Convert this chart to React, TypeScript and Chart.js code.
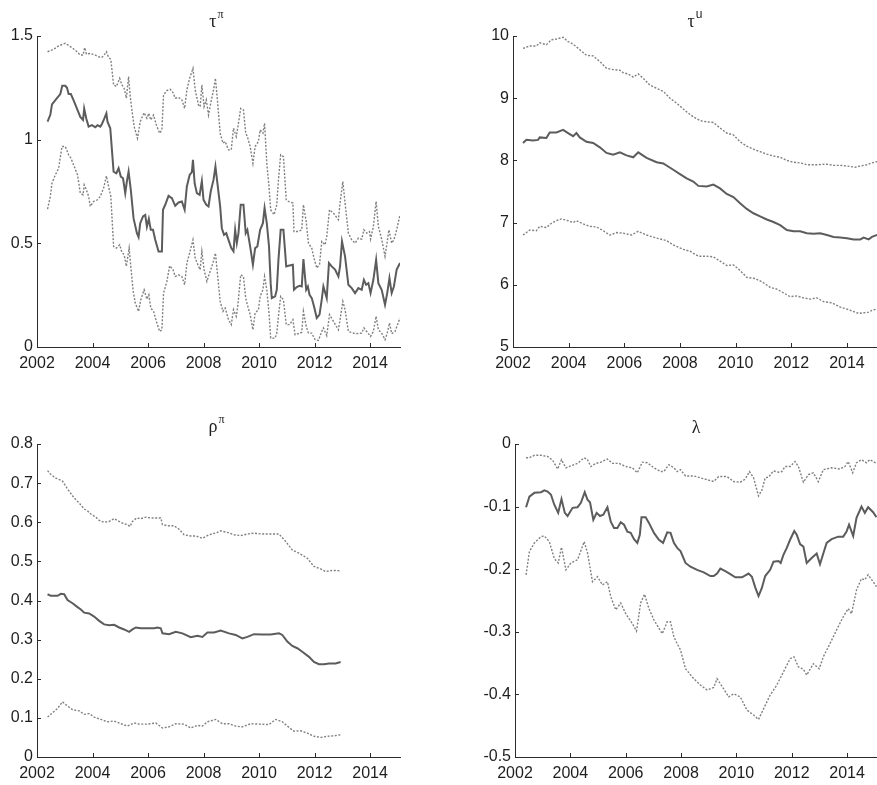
import React, { useEffect, useRef } from "react";
import { Chart, registerables } from "chart.js";

Chart.register(...registerables);

type Pt = [number, number];

// ---------- shared axis data ----------
const xTicks = [2002, 2004, 2006, 2008, 2010, 2012, 2014];
const xMin = 2002;
const xMax = 2015.08;

// ---------- τ^π ----------
const tauPiTicks = [0, 0.5, 1, 1.5];
const tauPiMedian: Pt[] = [[2002.38,1.087],[2002.48,1.12],[2002.54,1.17],[2002.72,1.2],[2002.84,1.22],[2002.91,1.26],[2003.02,1.26],[2003.08,1.25],[2003.14,1.22],[2003.22,1.22],[2003.32,1.19],[2003.44,1.15],[2003.56,1.11],[2003.66,1.095],[2003.7,1.15],[2003.78,1.1],[2003.86,1.063],[2003.98,1.07],[2004.1,1.06],[2004.18,1.07],[2004.28,1.063],[2004.34,1.076],[2004.42,1.1],[2004.5,1.127],[2004.54,1.087],[2004.64,1.055],[2004.76,0.846],[2004.86,0.838],[2004.94,0.862],[2005.02,0.822],[2005.1,0.814],[2005.18,0.742],[2005.24,0.8],[2005.3,0.846],[2005.38,0.758],[2005.48,0.62],[2005.6,0.549],[2005.66,0.53],[2005.72,0.597],[2005.82,0.63],[2005.9,0.637],[2005.96,0.58],[2006.03,0.618],[2006.1,0.565],[2006.18,0.565],[2006.26,0.517],[2006.38,0.461],[2006.5,0.461],[2006.54,0.662],[2006.62,0.686],[2006.74,0.729],[2006.86,0.718],[2006.98,0.681],[2007.1,0.697],[2007.22,0.702],[2007.32,0.662],[2007.4,0.774],[2007.5,0.83],[2007.58,0.843],[2007.62,0.903],[2007.68,0.79],[2007.76,0.742],[2007.86,0.734],[2007.94,0.8],[2008.0,0.71],[2008.1,0.686],[2008.18,0.678],[2008.26,0.75],[2008.36,0.806],[2008.43,0.87],[2008.5,0.79],[2008.6,0.678],[2008.66,0.573],[2008.74,0.541],[2008.82,0.549],[2008.9,0.517],[2009.0,0.477],[2009.08,0.461],[2009.14,0.565],[2009.2,0.501],[2009.26,0.549],[2009.34,0.686],[2009.44,0.686],[2009.52,0.549],[2009.58,0.565],[2009.68,0.485],[2009.78,0.397],[2009.86,0.477],[2009.94,0.485],[2010.04,0.565],[2010.14,0.597],[2010.2,0.67],[2010.28,0.597],[2010.36,0.485],[2010.42,0.308],[2010.46,0.236],[2010.58,0.244],[2010.64,0.276],[2010.7,0.42],[2010.78,0.565],[2010.88,0.565],[2010.98,0.389],[2011.06,0.392],[2011.22,0.397],[2011.26,0.276],[2011.36,0.289],[2011.46,0.295],[2011.54,0.292],[2011.6,0.424],[2011.7,0.276],[2011.76,0.292],[2011.82,0.252],[2011.9,0.236],[2011.98,0.196],[2012.08,0.14],[2012.18,0.156],[2012.26,0.228],[2012.32,0.292],[2012.44,0.236],[2012.52,0.405],[2012.62,0.389],[2012.74,0.373],[2012.86,0.34],[2012.92,0.389],[2012.99,0.509],[2013.1,0.437],[2013.22,0.3],[2013.34,0.284],[2013.46,0.26],[2013.58,0.284],[2013.7,0.276],[2013.78,0.324],[2013.86,0.3],[2013.94,0.308],[2014.02,0.26],[2014.12,0.324],[2014.22,0.42],[2014.3,0.308],[2014.42,0.276],[2014.54,0.204],[2014.62,0.26],[2014.7,0.332],[2014.78,0.26],[2014.86,0.292],[2014.96,0.373],[2015.08,0.405]];
const tauPiUpper: Pt[] = [[2002.38,1.424],[2002.6,1.436],[2002.78,1.452],[2003.02,1.465],[2003.2,1.449],[2003.38,1.432],[2003.56,1.408],[2003.66,1.408],[2003.72,1.444],[2003.78,1.413],[2003.92,1.416],[2004.1,1.408],[2004.22,1.4],[2004.34,1.397],[2004.42,1.408],[2004.5,1.424],[2004.58,1.397],[2004.66,1.387],[2004.76,1.264],[2004.86,1.256],[2004.98,1.296],[2005.06,1.264],[2005.14,1.248],[2005.22,1.2],[2005.3,1.304],[2005.36,1.208],[2005.42,1.143],[2005.5,1.063],[2005.62,1.007],[2005.72,1.087],[2005.86,1.13],[2005.96,1.103],[2006.03,1.127],[2006.1,1.095],[2006.2,1.119],[2006.3,1.071],[2006.42,1.031],[2006.5,1.047],[2006.56,1.216],[2006.68,1.237],[2006.8,1.243],[2006.9,1.227],[2006.98,1.2],[2007.1,1.204],[2007.22,1.192],[2007.32,1.151],[2007.4,1.24],[2007.5,1.296],[2007.62,1.344],[2007.7,1.24],[2007.82,1.167],[2007.88,1.159],[2007.94,1.264],[2008.02,1.159],[2008.1,1.192],[2008.18,1.119],[2008.26,1.176],[2008.36,1.24],[2008.43,1.296],[2008.5,1.192],[2008.6,1.031],[2008.7,0.983],[2008.78,0.991],[2008.9,0.951],[2009.0,0.951],[2009.08,1.055],[2009.18,1.015],[2009.24,1.063],[2009.34,1.151],[2009.44,1.143],[2009.52,1.031],[2009.58,1.015],[2009.68,0.967],[2009.78,0.886],[2009.86,0.967],[2009.98,0.991],[2010.04,1.047],[2010.14,1.031],[2010.2,1.079],[2010.28,0.886],[2010.36,0.774],[2010.42,0.662],[2010.54,0.638],[2010.64,0.686],[2010.7,0.806],[2010.78,0.927],[2010.88,0.918],[2010.98,0.71],[2011.06,0.702],[2011.22,0.694],[2011.26,0.557],[2011.42,0.557],[2011.54,0.565],[2011.6,0.686],[2011.7,0.605],[2011.78,0.501],[2011.9,0.477],[2011.98,0.429],[2012.08,0.381],[2012.18,0.397],[2012.26,0.509],[2012.38,0.493],[2012.44,0.533],[2012.54,0.662],[2012.68,0.646],[2012.86,0.614],[2012.92,0.694],[2013.02,0.798],[2013.1,0.694],[2013.22,0.549],[2013.34,0.517],[2013.46,0.501],[2013.58,0.525],[2013.7,0.52],[2013.78,0.565],[2013.88,0.549],[2013.98,0.557],[2014.02,0.52],[2014.12,0.581],[2014.22,0.702],[2014.3,0.581],[2014.42,0.52],[2014.54,0.437],[2014.62,0.509],[2014.68,0.565],[2014.78,0.501],[2014.86,0.517],[2014.96,0.565],[2015.08,0.638]];
const tauPiLower: Pt[] = [[2002.38,0.665],[2002.48,0.726],[2002.54,0.79],[2002.66,0.83],[2002.78,0.862],[2002.9,0.967],[2003.02,0.967],[2003.14,0.927],[2003.22,0.911],[2003.32,0.878],[2003.46,0.83],[2003.56,0.742],[2003.66,0.734],[2003.7,0.782],[2003.78,0.758],[2003.86,0.726],[2003.92,0.678],[2004.04,0.702],[2004.18,0.71],[2004.28,0.726],[2004.4,0.766],[2004.5,0.825],[2004.58,0.774],[2004.66,0.726],[2004.76,0.485],[2004.86,0.477],[2004.98,0.493],[2005.06,0.456],[2005.14,0.445],[2005.22,0.389],[2005.32,0.477],[2005.38,0.389],[2005.46,0.276],[2005.54,0.212],[2005.66,0.172],[2005.74,0.228],[2005.86,0.276],[2005.96,0.231],[2006.03,0.252],[2006.1,0.188],[2006.2,0.172],[2006.3,0.124],[2006.42,0.075],[2006.5,0.083],[2006.56,0.26],[2006.68,0.316],[2006.78,0.392],[2006.9,0.373],[2006.98,0.34],[2007.1,0.348],[2007.22,0.34],[2007.32,0.3],[2007.4,0.405],[2007.5,0.453],[2007.62,0.517],[2007.7,0.429],[2007.82,0.389],[2007.88,0.373],[2007.94,0.461],[2008.02,0.373],[2008.12,0.316],[2008.24,0.365],[2008.34,0.405],[2008.43,0.453],[2008.5,0.357],[2008.6,0.22],[2008.7,0.172],[2008.78,0.188],[2008.9,0.132],[2009.0,0.108],[2009.08,0.18],[2009.18,0.148],[2009.24,0.204],[2009.34,0.348],[2009.44,0.34],[2009.52,0.236],[2009.58,0.204],[2009.68,0.156],[2009.78,0.083],[2009.86,0.164],[2009.98,0.18],[2010.04,0.244],[2010.14,0.276],[2010.2,0.34],[2010.28,0.276],[2010.36,0.164],[2010.42,0.043],[2010.58,0.043],[2010.64,0.067],[2010.7,0.148],[2010.78,0.244],[2010.88,0.228],[2010.98,0.108],[2011.1,0.108],[2011.22,0.132],[2011.3,0.059],[2011.48,0.067],[2011.54,0.071],[2011.6,0.172],[2011.7,0.1],[2011.78,0.067],[2011.9,0.067],[2012.02,0.035],[2012.14,0.032],[2012.26,0.075],[2012.32,0.092],[2012.44,0.055],[2012.54,0.156],[2012.68,0.124],[2012.86,0.083],[2012.92,0.132],[2013.02,0.22],[2013.1,0.18],[2013.22,0.075],[2013.46,0.064],[2013.7,0.067],[2013.78,0.092],[2013.88,0.075],[2014.02,0.051],[2014.12,0.075],[2014.22,0.148],[2014.3,0.083],[2014.42,0.067],[2014.54,0.035],[2014.62,0.067],[2014.7,0.116],[2014.78,0.064],[2014.9,0.075],[2015.08,0.14]];

// ---------- τ^u ----------
const tauUTicks = [5, 6, 7, 8, 9, 10];
const tauUMedian: Pt[] = [[2002.36,8.28],[2002.48,8.33],[2002.72,8.32],[2002.9,8.33],[2002.96,8.37],[2003.2,8.36],[2003.32,8.45],[2003.56,8.45],[2003.8,8.49],[2003.98,8.44],[2004.16,8.39],[2004.28,8.44],[2004.4,8.37],[2004.64,8.3],[2004.88,8.28],[2005.12,8.21],[2005.36,8.12],[2005.6,8.09],[2005.84,8.13],[2006.08,8.08],[2006.32,8.05],[2006.5,8.13],[2006.8,8.04],[2007.16,7.97],[2007.4,7.95],[2007.76,7.85],[2008.0,7.78],[2008.24,7.71],[2008.48,7.66],[2008.66,7.59],[2008.96,7.58],[2009.2,7.61],[2009.44,7.55],[2009.68,7.46],[2009.92,7.41],[2010.16,7.31],[2010.4,7.22],[2010.64,7.15],[2010.88,7.1],[2011.12,7.05],[2011.36,7.01],[2011.6,6.96],[2011.84,6.88],[2012.08,6.86],[2012.32,6.86],[2012.56,6.83],[2012.8,6.82],[2013.04,6.83],[2013.28,6.8],[2013.52,6.77],[2013.76,6.76],[2014.0,6.75],[2014.24,6.73],[2014.48,6.73],[2014.6,6.76],[2014.78,6.73],[2014.9,6.77],[2015.08,6.8]];
const tauUUpper: Pt[] = [[2002.36,9.8],[2002.6,9.84],[2002.84,9.84],[2002.96,9.89],[2003.2,9.86],[2003.38,9.94],[2003.56,9.95],[2003.8,9.98],[2003.98,9.91],[2004.16,9.87],[2004.4,9.78],[2004.64,9.69],[2004.88,9.68],[2005.12,9.59],[2005.36,9.48],[2005.6,9.46],[2005.84,9.45],[2005.96,9.41],[2006.14,9.39],[2006.32,9.34],[2006.5,9.39],[2006.68,9.32],[2006.92,9.21],[2007.16,9.16],[2007.4,9.11],[2007.64,9.0],[2007.88,8.92],[2008.24,8.78],[2008.48,8.7],[2008.72,8.64],[2008.96,8.62],[2009.2,8.61],[2009.44,8.52],[2009.68,8.44],[2009.92,8.41],[2010.16,8.3],[2010.4,8.23],[2010.64,8.18],[2010.88,8.14],[2011.12,8.1],[2011.36,8.07],[2011.6,8.05],[2011.84,8.0],[2012.08,7.97],[2012.32,7.96],[2012.56,7.93],[2012.92,7.93],[2013.28,7.94],[2013.52,7.92],[2013.76,7.92],[2014.0,7.91],[2014.3,7.89],[2014.48,7.91],[2014.72,7.93],[2014.9,7.96],[2015.08,7.98]];
const tauULower: Pt[] = [[2002.36,6.8],[2002.6,6.88],[2002.84,6.87],[2002.96,6.94],[2003.2,6.92],[2003.38,6.99],[2003.56,7.03],[2003.74,7.06],[2003.98,7.03],[2004.16,7.0],[2004.28,7.03],[2004.52,6.98],[2004.76,6.94],[2005.0,6.93],[2005.24,6.87],[2005.48,6.8],[2005.72,6.84],[2005.96,6.83],[2006.26,6.8],[2006.5,6.86],[2006.8,6.8],[2007.16,6.75],[2007.52,6.71],[2007.76,6.64],[2008.12,6.57],[2008.36,6.54],[2008.66,6.46],[2008.96,6.46],[2009.2,6.45],[2009.44,6.38],[2009.68,6.31],[2009.92,6.32],[2010.16,6.23],[2010.4,6.12],[2010.7,6.1],[2010.94,6.05],[2011.24,5.96],[2011.48,5.93],[2011.72,5.87],[2011.96,5.81],[2012.2,5.82],[2012.44,5.79],[2012.68,5.77],[2012.92,5.79],[2013.16,5.73],[2013.46,5.71],[2013.76,5.64],[2014.0,5.61],[2014.24,5.57],[2014.42,5.54],[2014.6,5.55],[2014.78,5.56],[2014.9,5.59],[2015.08,5.61]];

// ---------- ρ^π ----------
const rhoPiTicks = [0, 0.1, 0.2, 0.3, 0.4, 0.5, 0.6, 0.7, 0.8];
const rhoPiMedian: Pt[] = [[2002.38,0.416],[2002.5,0.412],[2002.74,0.412],[2002.86,0.417],[2002.98,0.416],[2003.1,0.401],[2003.28,0.393],[2003.46,0.383],[2003.58,0.377],[2003.7,0.369],[2003.88,0.367],[2004.06,0.359],[2004.24,0.348],[2004.42,0.339],[2004.6,0.337],[2004.78,0.338],[2004.96,0.331],[2005.14,0.326],[2005.32,0.32],[2005.44,0.326],[2005.56,0.331],[2005.74,0.329],[2005.98,0.329],[2006.22,0.329],[2006.34,0.331],[2006.46,0.329],[2006.52,0.316],[2006.76,0.314],[2007.0,0.32],[2007.24,0.316],[2007.54,0.306],[2007.78,0.31],[2007.96,0.307],[2008.14,0.318],[2008.38,0.318],[2008.62,0.323],[2008.92,0.316],[2009.16,0.312],[2009.4,0.303],[2009.58,0.307],[2009.82,0.314],[2010.12,0.313],[2010.42,0.313],[2010.72,0.316],[2010.84,0.312],[2011.02,0.295],[2011.2,0.284],[2011.38,0.278],[2011.56,0.269],[2011.8,0.256],[2011.98,0.243],[2012.16,0.237],[2012.34,0.237],[2012.52,0.239],[2012.76,0.239],[2012.94,0.243]];
const rhoPiUpper: Pt[] = [[2002.38,0.732],[2002.5,0.722],[2002.68,0.713],[2002.92,0.705],[2003.1,0.685],[2003.34,0.662],[2003.52,0.649],[2003.7,0.634],[2003.82,0.629],[2003.94,0.621],[2004.12,0.613],[2004.24,0.605],[2004.42,0.6],[2004.6,0.602],[2004.78,0.609],[2004.96,0.602],[2005.14,0.596],[2005.26,0.594],[2005.35,0.589],[2005.44,0.602],[2005.59,0.611],[2005.74,0.609],[2005.92,0.613],[2006.1,0.611],[2006.28,0.611],[2006.46,0.611],[2006.52,0.594],[2006.7,0.591],[2006.94,0.591],[2007.12,0.582],[2007.3,0.568],[2007.54,0.565],[2007.72,0.565],[2007.96,0.559],[2008.2,0.568],[2008.5,0.574],[2008.62,0.578],[2008.86,0.574],[2009.1,0.568],[2009.34,0.566],[2009.58,0.57],[2009.82,0.572],[2010.12,0.57],[2010.36,0.57],[2010.72,0.57],[2010.96,0.551],[2011.2,0.529],[2011.44,0.521],[2011.74,0.508],[2011.98,0.487],[2012.22,0.481],[2012.4,0.474],[2012.64,0.477],[2012.94,0.476]];
const rhoPiLower: Pt[] = [[2002.38,0.102],[2002.56,0.113],[2002.74,0.124],[2002.92,0.141],[2003.1,0.13],[2003.28,0.121],[2003.52,0.118],[2003.7,0.109],[2003.88,0.111],[2004.06,0.102],[2004.3,0.096],[2004.54,0.09],[2004.78,0.092],[2005.02,0.085],[2005.26,0.079],[2005.5,0.087],[2005.68,0.084],[2005.98,0.084],[2006.28,0.087],[2006.52,0.074],[2006.76,0.077],[2007.0,0.085],[2007.3,0.084],[2007.54,0.074],[2007.78,0.081],[2007.96,0.079],[2008.14,0.09],[2008.44,0.096],[2008.68,0.085],[2008.92,0.085],[2009.16,0.079],[2009.4,0.077],[2009.7,0.085],[2010.0,0.084],[2010.36,0.083],[2010.6,0.096],[2010.84,0.09],[2011.02,0.079],[2011.26,0.066],[2011.5,0.067],[2011.74,0.061],[2011.98,0.053],[2012.22,0.05],[2012.46,0.053],[2012.7,0.054],[2012.94,0.057]];

// ---------- λ ----------
const lambdaTicks = [-0.5, -0.4, -0.3, -0.2, -0.1, 0];
const lambdaMedian: Pt[] = [[2002.4,-0.101],[2002.52,-0.084],[2002.7,-0.078],[2002.94,-0.077],[2003.06,-0.074],[2003.18,-0.076],[2003.3,-0.081],[2003.42,-0.097],[2003.56,-0.11],[2003.68,-0.088],[2003.8,-0.11],[2003.9,-0.115],[2004.08,-0.102],[2004.26,-0.101],[2004.38,-0.094],[2004.52,-0.077],[2004.62,-0.089],[2004.71,-0.093],[2004.83,-0.121],[2004.95,-0.11],[2005.07,-0.115],[2005.19,-0.113],[2005.34,-0.101],[2005.46,-0.124],[2005.58,-0.134],[2005.7,-0.134],[2005.82,-0.125],[2005.94,-0.129],[2006.06,-0.14],[2006.18,-0.142],[2006.3,-0.152],[2006.42,-0.158],[2006.51,-0.145],[2006.57,-0.117],[2006.72,-0.117],[2006.84,-0.126],[2007.02,-0.142],[2007.2,-0.153],[2007.35,-0.158],[2007.5,-0.141],[2007.62,-0.142],[2007.74,-0.158],[2007.86,-0.166],[2007.98,-0.171],[2008.16,-0.19],[2008.34,-0.196],[2008.58,-0.201],[2008.82,-0.205],[2009.06,-0.211],[2009.18,-0.211],[2009.3,-0.207],[2009.42,-0.199],[2009.6,-0.203],[2009.78,-0.208],[2009.96,-0.213],[2010.2,-0.213],[2010.44,-0.207],[2010.56,-0.212],[2010.68,-0.229],[2010.8,-0.243],[2010.92,-0.23],[2011.04,-0.211],[2011.22,-0.201],[2011.34,-0.188],[2011.52,-0.187],[2011.6,-0.19],[2011.7,-0.177],[2011.82,-0.166],[2011.94,-0.153],[2012.09,-0.139],[2012.18,-0.145],[2012.3,-0.16],[2012.42,-0.164],[2012.54,-0.19],[2012.72,-0.182],[2012.9,-0.175],[2013.02,-0.192],[2013.14,-0.175],[2013.26,-0.158],[2013.44,-0.152],[2013.68,-0.148],[2013.86,-0.148],[2013.98,-0.14],[2014.07,-0.129],[2014.22,-0.147],[2014.34,-0.118],[2014.52,-0.1],[2014.64,-0.11],[2014.76,-0.101],[2014.94,-0.109],[2015.06,-0.117]];
const lambdaUpper: Pt[] = [[2002.4,-0.022],[2002.52,-0.022],[2002.7,-0.018],[2002.94,-0.018],[2003.18,-0.02],[2003.36,-0.026],[2003.54,-0.04],[2003.68,-0.025],[2003.84,-0.038],[2004.02,-0.035],[2004.26,-0.031],[2004.5,-0.022],[2004.62,-0.025],[2004.74,-0.036],[2004.92,-0.031],[2005.1,-0.029],[2005.34,-0.024],[2005.52,-0.031],[2005.76,-0.031],[2006.0,-0.036],[2006.24,-0.038],[2006.42,-0.046],[2006.6,-0.029],[2006.78,-0.03],[2007.02,-0.038],[2007.26,-0.044],[2007.38,-0.044],[2007.56,-0.033],[2007.74,-0.038],[2007.86,-0.044],[2007.98,-0.041],[2008.16,-0.051],[2008.46,-0.051],[2008.7,-0.054],[2008.94,-0.057],[2009.18,-0.06],[2009.36,-0.052],[2009.66,-0.052],[2009.9,-0.06],[2010.14,-0.061],[2010.32,-0.056],[2010.47,-0.044],[2010.62,-0.054],[2010.8,-0.083],[2010.92,-0.074],[2011.04,-0.054],[2011.16,-0.053],[2011.34,-0.043],[2011.52,-0.045],[2011.64,-0.044],[2011.76,-0.036],[2011.94,-0.036],[2012.12,-0.028],[2012.24,-0.036],[2012.42,-0.061],[2012.6,-0.049],[2012.78,-0.046],[2012.96,-0.06],[2013.14,-0.041],[2013.44,-0.038],[2013.74,-0.04],[2013.92,-0.036],[2014.04,-0.028],[2014.2,-0.046],[2014.34,-0.03],[2014.52,-0.025],[2014.7,-0.03],[2014.82,-0.025],[2015.06,-0.031]];
const lambdaLower: Pt[] = [[2002.4,-0.209],[2002.52,-0.172],[2002.7,-0.158],[2002.94,-0.148],[2003.06,-0.147],[2003.24,-0.156],[2003.42,-0.183],[2003.56,-0.19],[2003.68,-0.165],[2003.84,-0.201],[2004.02,-0.19],[2004.26,-0.185],[2004.5,-0.156],[2004.62,-0.174],[2004.8,-0.22],[2004.98,-0.212],[2005.16,-0.225],[2005.34,-0.22],[2005.46,-0.244],[2005.64,-0.265],[2005.82,-0.254],[2006.0,-0.271],[2006.24,-0.287],[2006.39,-0.299],[2006.54,-0.254],[2006.68,-0.24],[2006.84,-0.263],[2007.02,-0.281],[2007.32,-0.303],[2007.5,-0.284],[2007.62,-0.284],[2007.74,-0.308],[2007.86,-0.319],[2007.98,-0.329],[2008.16,-0.359],[2008.46,-0.375],[2008.7,-0.385],[2008.94,-0.393],[2009.18,-0.389],[2009.3,-0.375],[2009.48,-0.387],[2009.72,-0.404],[2009.9,-0.399],[2010.14,-0.404],[2010.38,-0.425],[2010.62,-0.433],[2010.8,-0.44],[2010.98,-0.423],[2011.22,-0.401],[2011.46,-0.385],[2011.7,-0.364],[2011.94,-0.343],[2012.08,-0.34],[2012.24,-0.356],[2012.42,-0.36],[2012.54,-0.369],[2012.78,-0.351],[2012.99,-0.359],[2013.14,-0.34],[2013.38,-0.319],[2013.62,-0.297],[2013.86,-0.276],[2014.04,-0.263],[2014.16,-0.271],[2014.34,-0.233],[2014.52,-0.215],[2014.64,-0.217],[2014.76,-0.209],[2014.94,-0.22],[2015.06,-0.228]];

// ---------- styling ----------
const AXIS_COLOR = "#2b2b2b";
const TEXT_COLOR = "#1e1e1e";
const MEDIAN_COLOR = "#5c5c5c";
const BAND_COLOR = "#808080";
const TICK_FONT = { family: "'Liberation Sans', Arial, sans-serif", size: 16 };

const inwardTicks = {
  id: "inwardTicks",
  afterDatasetsDraw(chart: any) {
    const { ctx, chartArea, scales } = chart;
    ctx.save();
    ctx.strokeStyle = AXIS_COLOR;
    ctx.lineWidth = 1;
    ctx.beginPath();
    scales.x.ticks.forEach((t: any) => {
      const px = Math.round(scales.x.getPixelForValue(t.value)) + 0.5;
      ctx.moveTo(px, chartArea.bottom);
      ctx.lineTo(px, chartArea.bottom - 4);
    });
    scales.y.ticks.forEach((t: any) => {
      const py = Math.round(scales.y.getPixelForValue(t.value)) + 0.5;
      ctx.moveTo(chartArea.left, py);
      ctx.lineTo(chartArea.left + 4, py);
    });
    ctx.stroke();
    ctx.restore();
  },
};

const greekTitle = {
  id: "greekTitle",
  afterDraw(chart: any, _args: any, opts: any) {
    if (!opts || !opts.main) return;
    const { ctx, chartArea } = chart;
    ctx.save();
    ctx.fillStyle = TEXT_COLOR;
    ctx.textBaseline = "alphabetic";
    ctx.textAlign = "left";
    const mainFont = "18px 'Liberation Serif', 'DejaVu Serif', serif";
    const supFont = opts.supFont;
    ctx.font = mainFont;
    const wMain = ctx.measureText(opts.main).width;
    ctx.font = supFont;
    const wSup = opts.sup ? ctx.measureText(opts.sup).width : 0;
    const total = wMain + (opts.sup ? 1 + wSup : 0);
    const cx = (chartArea.left + chartArea.right) / 2 + (opts.dx || 0);
    const x0 = cx - total / 2;
    const base = chartArea.top - opts.gap;
    ctx.font = mainFont;
    ctx.fillText(opts.main, x0, base);
    if (opts.sup) {
      ctx.font = supFont;
      ctx.fillText(opts.sup, x0 + wMain + 1, base - 9);
    }
    ctx.restore();
  },
};

type PanelProps = {
  left: number;
  top: number;
  width: number;
  height: number;
  yAxisWidth: number;
  padTop: number;
  padRight: number;
  xAxisHeight: number;
  yTicks: number[];
  median: Pt[];
  upper: Pt[];
  lower: Pt[];
  title: { main: string; sup: string; supFont: string; gap: number; dx?: number };
};

function Panel(p: PanelProps) {
  const ref = useRef<HTMLCanvasElement | null>(null);
  useEffect(() => {
    if (!ref.current) return;
    const toXY = (arr: Pt[]) => arr.map(([x, y]) => ({ x, y }));
    const yMin = p.yTicks[0];
    const yMax = p.yTicks[p.yTicks.length - 1];
    const chart = new Chart(ref.current, {
      type: "line",
      data: {
        datasets: [
          {
            data: toXY(p.upper),
            borderColor: BAND_COLOR,
            borderWidth: 1.4,
            borderDash: [2, 1.6],
            pointRadius: 0,
            tension: 0,
            fill: false,
          },
          {
            data: toXY(p.lower),
            borderColor: BAND_COLOR,
            borderWidth: 1.4,
            borderDash: [2, 1.6],
            pointRadius: 0,
            tension: 0,
            fill: false,
          },
          {
            data: toXY(p.median),
            borderColor: MEDIAN_COLOR,
            borderWidth: 2,
            pointRadius: 0,
            tension: 0,
            fill: false,
          },
        ],
      },
      options: {
        responsive: false,
        maintainAspectRatio: false,
        animation: false,
        devicePixelRatio: 1,
        layout: { padding: { top: p.padTop, right: p.padRight, left: 0, bottom: 0 } },
        plugins: {
          legend: { display: false },
          tooltip: { enabled: false },
          title: { display: false },
          greekTitle: p.title,
        } as any,
        scales: {
          x: {
            type: "linear",
            min: xMin,
            max: xMax,
            afterBuildTicks: (s: any) => {
              s.ticks = xTicks.map((v) => ({ value: v }));
            },
            afterFit: (s: any) => {
              s.height = p.xAxisHeight;
            },
            grid: { display: true, drawOnChartArea: false, drawTicks: false, color: "rgba(0,0,0,0)" },
            border: { display: true, color: AXIS_COLOR, width: 1 },
            ticks: {
              font: TICK_FONT,
              color: TEXT_COLOR,
              padding: 7,
              maxRotation: 0,
              autoSkip: false,
              callback: (v: any) => String(v),
            },
          },
          y: {
            type: "linear",
            min: yMin,
            max: yMax,
            afterBuildTicks: (s: any) => {
              s.ticks = p.yTicks.map((v) => ({ value: v }));
            },
            afterFit: (s: any) => {
              s.width = p.yAxisWidth;
            },
            grid: { display: true, drawOnChartArea: false, drawTicks: false, color: "rgba(0,0,0,0)" },
            border: { display: true, color: AXIS_COLOR, width: 1 },
            ticks: {
              font: TICK_FONT,
              color: TEXT_COLOR,
              padding: 4,
              autoSkip: false,
              callback: (v: any) => String(Math.round(Number(v) * 100) / 100),
            },
          },
        },
      },
      plugins: [inwardTicks, greekTitle],
    } as any);
    return () => chart.destroy();
  }, []);
  return (
    <canvas
      ref={ref}
      width={p.width}
      height={p.height}
      style={{ position: "absolute", left: p.left, top: p.top, width: p.width, height: p.height }}
    />
  );
}

const SERIF_SUP = "12px 'Liberation Serif', 'DejaVu Serif', serif";
const SANS_SUP = "12px 'Liberation Sans', Arial, sans-serif";

export default function App() {
  return (
    <div style={{ position: "absolute", left: 0, top: 0, width: 877, height: 785, background: "#fff", overflow: "hidden" }}>
      <Panel
        left={0} top={0} width={440} height={392}
        yAxisWidth={37} padTop={36} padRight={40} xAxisHeight={45}
        yTicks={tauPiTicks} median={tauPiMedian} upper={tauPiUpper} lower={tauPiLower}
        title={{ main: "τ", sup: "π", supFont: SERIF_SUP, gap: 9, dx: -2 }}
      />
      <Panel
        left={440} top={0} width={437} height={392}
        yAxisWidth={73} padTop={36} padRight={0} xAxisHeight={45}
        yTicks={tauUTicks} median={tauUMedian} upper={tauUUpper} lower={tauULower}
        title={{ main: "τ", sup: "u", supFont: SANS_SUP, gap: 9 }}
      />
      <Panel
        left={0} top={392} width={440} height={393}
        yAxisWidth={37} padTop={52} padRight={40} xAxisHeight={28}
        yTicks={rhoPiTicks} median={rhoPiMedian} upper={rhoPiUpper} lower={rhoPiLower}
        title={{ main: "ρ", sup: "π", supFont: SERIF_SUP, gap: 12, dx: -2 }}
      />
      <Panel
        left={440} top={392} width={437} height={393}
        yAxisWidth={75} padTop={52} padRight={0} xAxisHeight={28}
        yTicks={lambdaTicks} median={lambdaMedian} upper={lambdaUpper} lower={lambdaLower}
        title={{ main: "λ", sup: "", supFont: SERIF_SUP, gap: 11 }}
      />
    </div>
  );
}
